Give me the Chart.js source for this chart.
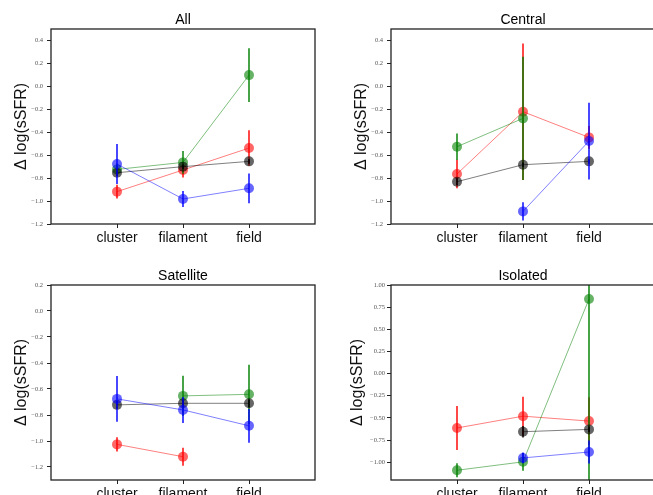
<!DOCTYPE html>
<html><head><meta charset="utf-8">
<script src="https://cdn.jsdelivr.net/npm/chart.js@4/dist/chart.umd.min.js"></script>
<style>
html,body{margin:0;padding:0;background:#fff;overflow:hidden;width:653px;height:495px;position:relative}
canvas{position:absolute;display:block}
</style></head><body>
<canvas id="c0" width="330" height="256" style="left:0;top:0"></canvas>
<canvas id="c1" width="330" height="256" style="left:340px;top:0"></canvas>
<canvas id="c2" width="330" height="256" style="left:0;top:256px"></canvas>
<canvas id="c3" width="330" height="256" style="left:340px;top:256px"></canvas>
<script>
// ---- categories / titles ----
const categories = ['cluster', 'filament', 'field'];
const panelTitles = ['All', 'Central', 'Satellite', 'Isolated'];
const yLabel = 'Δ log(sSFR)';

// ---- y ranges and tick labels ----
const yRangeAll = [-1.2, 0.5];
const yRangeCentral = [-1.2, 0.5];
const yRangeSatellite = [-1.3, 0.2];
const yRangeIsolated = [-1.2, 1.0];
const yTicksAll = [-1.2, -1.0, -0.8, -0.6, -0.4, -0.2, 0.0, 0.2, 0.4];
const yTicksCentral = [-1.2, -1.0, -0.8, -0.6, -0.4, -0.2, 0.0, 0.2, 0.4];
const yTicksSatellite = [-1.2, -1.0, -0.8, -0.6, -0.4, -0.2, 0.0, 0.2];
const yTicksIsolated = [-1.0, -0.75, -0.5, -0.25, 0.0, 0.25, 0.5, 0.75, 1.0];

// ---- All ----
const allBlue = [-0.677, -0.982, -0.889];
const allBlueErr = [0.175, 0.07, 0.13];
const allGreen = [-0.724, -0.663, 0.098];
const allGreenErr = [0.05, 0.1, 0.235];
const allRed = [-0.918, -0.729, -0.538];
const allRedErr = [0.06, 0.065, 0.155];
const allBlack = [-0.753, -0.700, -0.654];
const allBlackErr = [0.03, 0.02, 0.02];

// ---- Central ----
const centralBlue = [null, -1.09, -0.477];
const centralBlueErr = [0, 0.08, 0.335];
const centralGreen = [-0.526, -0.279, null];
const centralGreenErr = [0.115, 0.537, 0];
const centralRed = [-0.764, -0.221, -0.445];
const centralRedErr = [0.125, 0.595, 0.1];
const centralBlack = [-0.831, -0.683, -0.654];
const centralBlackErr = [0.03, 0.02, 0.02];

// ---- Satellite ----
const satelliteBlue = [-0.676, -0.761, -0.883];
const satelliteBlueErr = [0.176, 0.1, 0.13];
const satelliteGreen = [null, -0.653, -0.641];
const satelliteGreenErr = [0, 0.155, 0.228];
const satelliteRed = [-1.026, -1.121, null];
const satelliteRedErr = [0.055, 0.07, 0];
const satelliteBlack = [-0.722, -0.710, -0.710];
const satelliteBlackErr = [0.03, 0.03, 0.03];

// ---- Isolated ----
const isolatedBlue = [null, -0.951, -0.884];
const isolatedBlueErr = [0, 0.06, 0.13];
const isolatedGreen = [-1.09, -0.995, 0.842];
const isolatedGreenErr = [0.08, 0.1, 2.3];
const isolatedRed = [-0.613, -0.48, -0.535];
const isolatedRedErr = [0.248, 0.22, 0.27];
const isolatedBlack = [null, -0.655, -0.629];
const isolatedBlackErr = [0, 0.065, 0.03];

const colBlue = [0, 0, 255], colGreen = [0, 128, 0], colRed = [255, 0, 0], colBlack = [0, 0, 0];
const rgba = (c, a) => `rgba(${c[0]},${c[1]},${c[2]},${a})`;

const panels = [
  {title: panelTitles[0], range: yRangeAll, ticks: yTicksAll, dec: 1, tickPad: 4, titlePad: 12,
   series: [[allBlue, allBlueErr, colBlue], [allBlack, allBlackErr, colBlack], [allGreen, allGreenErr, colGreen], [allRed, allRedErr, colRed]]},
  {title: panelTitles[1], range: yRangeCentral, ticks: yTicksCentral, dec: 1, tickPad: 4, titlePad: 12,
   series: [[centralBlue, centralBlueErr, colBlue], [centralBlack, centralBlackErr, colBlack], [centralGreen, centralGreenErr, colGreen], [centralRed, centralRedErr, colRed]]},
  {title: panelTitles[2], range: yRangeSatellite, ticks: yTicksSatellite, dec: 1, tickPad: 4, titlePad: 12,
   series: [[satelliteBlue, satelliteBlueErr, colBlue], [satelliteBlack, satelliteBlackErr, colBlack], [satelliteGreen, satelliteGreenErr, colGreen], [satelliteRed, satelliteRedErr, colRed]]},
  {title: panelTitles[3], range: yRangeIsolated, ticks: yTicksIsolated, dec: 2, tickPad: 2, titlePad: 7.5,
   series: [[isolatedBlue, isolatedBlueErr, colBlue], [isolatedBlack, isolatedBlackErr, colBlack], [isolatedGreen, isolatedGreenErr, colGreen], [isolatedRed, isolatedRedErr, colRed]]}
];

const errorBarPlugin = {
  id: 'errbars',
  beforeDatasetDraw(chart, args) {
    const ds = chart.data.datasets[args.index];
    const xs = chart.scales.x, ys = chart.scales.y, ca = chart.chartArea;
    const ctx = chart.ctx;
    ctx.save();
    ctx.beginPath();
    ctx.rect(ca.left, ca.top, ca.right - ca.left, ca.bottom - ca.top);
    ctx.clip();
    ctx.strokeStyle = ds.errColor;
    ctx.lineWidth = 1.6;
    ds.data.forEach((p, i) => {
      if (p.y === null || !ds.errors[i]) return;
      const x = xs.getPixelForValue(p.x);
      const y1 = ys.getPixelForValue(p.y + ds.errors[i]);
      const y2 = ys.getPixelForValue(p.y - ds.errors[i]);
      ctx.beginPath();
      ctx.moveTo(x, y1);
      ctx.lineTo(x, y2);
      ctx.stroke();
    });
    ctx.restore();
  }
};

const framePlugin = {
  id: 'frame',
  afterDraw(chart) {
    const ca = chart.chartArea, ctx = chart.ctx;
    ctx.save();
    ctx.strokeStyle = '#222';
    ctx.lineWidth = 1.3;
    ctx.strokeRect(ca.left, ca.top, ca.right - ca.left, ca.bottom - ca.top);
    ctx.restore();
  }
};

const fmt = (v, d) => (v < 0 ? '\u2212' : '') + Math.abs(v).toFixed(d);

panels.forEach((p, k) => {
  const datasets = p.series.map(([vals, errs, col]) => ({
    data: vals.map((v, i) => ({x: i, y: v})),
    errors: errs,
    errColor: rgba(col, 0.9),
    borderColor: rgba(col, 0.5),
    borderWidth: 1,
    backgroundColor: rgba(col, 0.6),
    pointBackgroundColor: rgba(col, 0.6),
    pointBorderWidth: 0,
    pointRadius: 5,
    pointHoverRadius: 5,
    tension: 0,
    spanGaps: false
  }));
  new Chart(document.getElementById('c' + k), {
    type: 'line',
    data: {datasets},
    plugins: [errorBarPlugin, framePlugin],
    options: {
      responsive: false,
      animation: false,
      devicePixelRatio: 1,
      layout: {padding: {left: 0, right: 15, top: 0, bottom: 0}},
      plugins: {
        legend: {display: false},
        tooltip: {enabled: false},
        title: {display: true, text: p.title, fullSize: false, color: '#000',
                font: {family: "'Liberation Sans', Arial, sans-serif", size: 14, weight: 'normal'},
                padding: {top: 11.6, bottom: 0.6}}
      },
      scales: {
        x: {
          type: 'linear', min: -1, max: 3,
          afterBuildTicks: s => { s.ticks = categories.map((c, i) => ({value: i})); },
          afterFit: s => { s.height = 32; },
          border: {display: false},
          grid: {display: true, drawOnChartArea: false, drawTicks: true, tickLength: 4, color: '#222', tickWidth: 1},
          ticks: {callback: v => categories[v] ?? '', color: '#111', padding: 2, maxRotation: 0, autoSkip: false,
                  font: {family: "'Liberation Sans', Arial, sans-serif", size: 14}}
        },
        y: {
          min: p.range[0], max: p.range[1],
          afterBuildTicks: s => { s.ticks = p.ticks.map(v => ({value: v})); },
          afterFit: s => { s.width = 51; },
          border: {display: false},
          grid: {display: true, drawOnChartArea: false, drawTicks: true, tickLength: 4, color: '#222', tickWidth: 1},
          ticks: {callback: v => fmt(v, p.dec), color: '#555', padding: p.tickPad, autoSkip: false,
                  font: {family: "'Liberation Serif', 'DejaVu Serif', serif", size: 6.5}},
          title: {display: true, text: yLabel, color: '#111', padding: {top: p.titlePad, bottom: 0},
                  font: {family: "'Liberation Sans', Arial, sans-serif", size: 16}}
        }
      }
    }
  });
});
</script>
</body></html>
